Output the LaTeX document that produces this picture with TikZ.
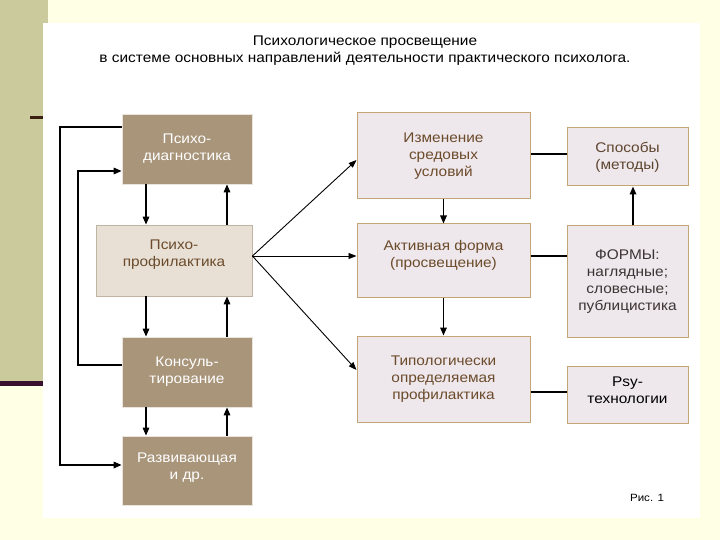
\documentclass[tikz,border=0pt]{standalone}
\usepackage{fontspec}
\setmainfont[FakeStretch=1.1]{Liberation Sans}
\usetikzlibrary{arrows.meta}
\definecolor{bgy}{HTML}{FFFFE6}
\definecolor{oliveband}{HTML}{CBCA9C}
\definecolor{purp}{HTML}{3A1030}
\definecolor{darkline}{HTML}{3A2010}
\definecolor{tanfill}{HTML}{A8957A}
\definecolor{beigefill}{HTML}{E8E0D5}
\definecolor{beigeborder}{HTML}{BFB4A4}
\definecolor{pinkfill}{HTML}{EEE7EB}
\definecolor{goldborder}{HTML}{C4A674}
\definecolor{browntext}{HTML}{6B4B2B}
\definecolor{greytext}{HTML}{3C3434}
\tikzset{
  boxbase/.style={rectangle, align=center, font=\fontsize{14}{17}\selectfont, inner sep=0pt},
  darkbox/.style={boxbase, fill=tanfill, draw=white!75!tanfill, line width=0.8pt, text=white},
  lightbox/.style={boxbase, fill=beigefill, draw=beigeborder, line width=0.8pt, text=browntext},
  midbox/.style={boxbase, fill=pinkfill, draw=goldborder, line width=1pt, text=browntext},
  sidebox/.style={boxbase, fill=pinkfill, draw=goldborder, line width=1pt, text=greytext},
  arr/.style={-{Triangle[length=8pt,width=6.5pt]}, line width=1.6pt, black},
  thinarr/.style={-{Triangle[length=8pt,width=6pt]}, line width=0.9pt, black},
  link/.style={line width=1.5pt, black},
}
\begin{document}
\begin{tikzpicture}[x=1pt,y=-1pt]
\useasboundingbox (0,0) rectangle (720,540);
\fill[bgy] (0,0) rectangle (720,540);
\fill[oliveband] (0,0) rectangle (48,383);
\fill[white] (43,23) rectangle (700,518);
\fill[purp] (0,381) rectangle (43,386);
\fill[darkline] (30,116.5) rectangle (43,119);

\node[font=\fontsize{14}{17}\selectfont, align=center] (title) at (365,51)
  {Психологическое просвещение\\в системе основных направлений деятельности практического психолога.};

\node[darkbox, minimum width=130pt, minimum height=70pt] (diag) at (187,149) {Психо-\\диагностика};
\node[lightbox, minimum width=156pt, minimum height=71pt, text depth=14pt] (prof) at (174,260.5) {Психо-\\профилактика};
\node[darkbox, minimum width=130pt, minimum height=70pt] (kons) at (187,372) {Консуль-\\тирование};
\node[darkbox, minimum width=130pt, minimum height=69pt, text depth=8pt] (razv) at (187,470.5) {Развивающая\\и др.};

\node[midbox, minimum width=173pt, minimum height=86pt] (izm) at (443.5,156) {Изменение\\средовых\\условий};
\node[midbox, minimum width=173pt, minimum height=73pt, text depth=14pt] (akt) at (443.5,260.5) {Активная форма\\(просвещение)};
\node[midbox, minimum width=173pt, minimum height=86pt] (tip) at (443.5,379) {Типологически\\определяемая\\профилактика};

\node[sidebox, minimum width=121pt, minimum height=58pt, text=browntext!70!greytext] (spos) at (627.5,157) {Способы\\(методы)};
\node[sidebox, minimum width=121pt, minimum height=111pt] (form) at (627.5,281.5) {ФОРМЫ:\\наглядные;\\словесные;\\публицистика};
\node[sidebox, minimum width=121pt, minimum height=57pt, text depth=8pt, text=black] (psy) at (627.5,394.5) {Psy-\\технологии};

\node[font=\fontsize{10.5}{13}\selectfont] (fig) at (647,498) {Рис. 1};

% left loops
\draw[arr] (diag.west |- 0,127) -- (60,127) -- (60,465) -- (razv.west |- 0,465);
\draw[arr] (kons.west |- 0,365) -- (78,365) -- (78,171) -- (diag.west |- 0,171);

% vertical arrows
\draw[arr] (diag.south -| 146,0) -- (prof.north -| 146,0);
\draw[arr] (prof.north -| 227,0) -- (diag.south -| 227,0);
\draw[arr] (prof.south -| 146,0) -- (kons.north -| 146,0);
\draw[arr] (kons.north -| 227,0) -- (prof.south -| 227,0);
\draw[arr] (kons.south -| 146,0) -- (razv.north -| 146,0);
\draw[arr] (razv.north -| 227,0) -- (kons.south -| 227,0);

% fan
\coordinate (fan) at (prof.east |- 0,256);
\draw[thinarr] (fan) -- (izm.west |- 0,160);
\draw[thinarr] (fan) -- (akt.west |- 0,256);
\draw[thinarr] (fan) -- (tip.west |- 0,370);

% middle verticals
\draw[arr] (izm.south) -- (akt.north);
\draw[arr] (akt.south) -- (tip.north);

% right links
\draw[link, line width=2.2pt] (izm.east |- 0,154) -- (spos.west |- 0,154);
\draw[link] (akt.east |- 0,256) -- (form.west |- 0,256);
\draw[link] (tip.east |- 0,392) -- (psy.west |- 0,392);
\draw[arr] (form.north -| 633,0) -- (spos.south -| 633,0);
\end{tikzpicture}
\end{document}
